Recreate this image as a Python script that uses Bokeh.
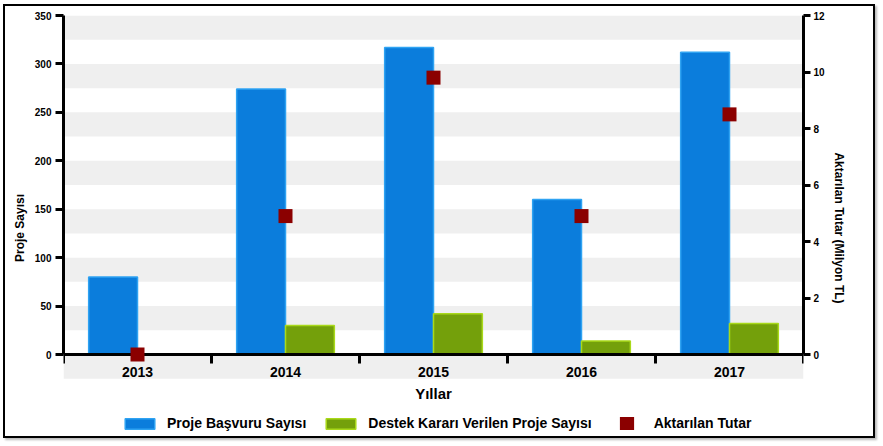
import numpy as np
from bokeh.plotting import figure
from bokeh.models import (Range1d, LinearAxis, FixedTicker, Legend, LegendItem,
                          ColumnDataSource, Grid)
from bokeh.embed import file_html
from bokeh.resources import INLINE

# ---- data ----
years = ["2013", "2014", "2015", "2016", "2017"]
basvuru = [80, 274, 317, 160, 312]          # Proje Başvuru Sayısı
destek = [0, 30, 42, 14, 32]                # Destek Kararı Verilen Proje Sayısı
tutar = [0.0, 4.9, 9.8, 4.9, 8.5]           # Aktarılan Tutar (Milyon TL)
left_ticks = [0, 50, 100, 150, 200, 250, 300, 350]
right_ticks = [0, 2, 4, 6, 8, 10, 12]
band_ticks = list(range(-25, 351, 25))

FONT = "Liberation Sans"
BAR_W = 0.33

# layout: the frame runs to the canvas bottom so the legend can sit inside it
W, H = 872, 434
TOP, LEFT, RIGHT = 9, 58, 74
AXIS_PX = 339                       # pixel height of 0..350
Y_MAX, Y2_MAX = 350, 12
frame_px = H - TOP
Y_MIN = Y_MAX - frame_px * Y_MAX / AXIS_PX
Y2_MIN = Y_MIN * Y2_MAX / Y_MAX

n = len(years)
centers = np.arange(n) + 0.5
src = ColumnDataSource(dict(
    xb=centers - BAR_W / 2, xg=centers + BAR_W / 2, xc=centers,
    basvuru=basvuru, destek=destek, tutar=tutar))

p = figure(width=W, height=H, x_range=Range1d(0, n), y_range=Range1d(Y_MIN, Y_MAX),
           output_backend="svg", toolbar_location=None,
           min_border_left=LEFT, min_border_right=RIGHT, min_border_top=TOP,
           min_border_bottom=0, x_axis_type=None, y_axis_type=None)
p.outline_line_color = None
p.background_fill_color = "white"
p.border_fill_color = "white"
p.styles = {"border": "2px solid black", "margin-left": "3px", "margin-top": "4px",
            "box-shadow": "2px 2px 2px #bbbbbb"}

p.extra_y_ranges = {"tutar": Range1d(Y2_MIN, Y2_MAX)}


def style_axis(ax, size="10px"):
    ax.axis_line_width = 3
    ax.axis_line_color = "black"
    ax.major_tick_line_width = 3
    ax.major_tick_line_color = "black"
    ax.major_tick_in = 0
    ax.major_tick_out = 8
    ax.minor_tick_line_color = None
    ax.major_label_text_font = FONT
    ax.major_label_text_font_style = "bold"
    ax.major_label_text_font_size = size
    ax.major_label_text_color = "black"
    ax.axis_label_text_font = FONT
    ax.axis_label_text_font_style = "bold"
    ax.axis_label_text_color = "black"


yl = LinearAxis(ticker=FixedTicker(ticks=left_ticks), axis_label="Proje Sayısı",
                bounds=(0, Y_MAX))
style_axis(yl)
yl.major_label_standoff = 4
yl.axis_label_text_font_size = "12px"
yl.axis_label_standoff = 5
p.add_layout(yl, "left")

yr = LinearAxis(y_range_name="tutar", ticker=FixedTicker(ticks=right_ticks),
                axis_label="Aktarılan Tutar (Milyon TL)", bounds=(0, Y2_MAX))
style_axis(yr)
yr.major_tick_out = 7
yr.major_label_standoff = 3
yr.axis_label_text_font_size = "12px"
yr.axis_label_standoff = 4
p.add_layout(yr, "right")

xa = LinearAxis(ticker=FixedTicker(ticks=list(centers), minor_ticks=list(range(n + 1))),
                axis_label="Yıllar", fixed_location=0)
style_axis(xa, "14px")
xa.major_tick_line_color = None
xa.major_tick_out = 0
xa.minor_tick_line_color = "black"
xa.minor_tick_line_width = 3
xa.minor_tick_in = 0
xa.minor_tick_out = 9
xa.major_label_standoff = 3
xa.major_label_overrides = {float(c): y for c, y in zip(centers, years)}
xa.axis_label_text_font_size = "15px"
xa.axis_label_standoff = 5
p.add_layout(xa, "below")

# alternating grey bands from 0 to 350
g = Grid(dimension=1, ticker=FixedTicker(ticks=band_ticks))
g.grid_line_color = None
g.band_fill_color = "#efefef"
g.band_fill_alpha = 1.0
p.add_layout(g)

r_blue = p.vbar(x="xb", top="basvuru", width=BAR_W, source=src,
                fill_color="#0b7ddc", line_color="#2fa3f2", line_width=1.5)
r_green = p.vbar(x="xg", top="destek", width=BAR_W, source=src,
                 fill_color="#74a00b", line_color="#a9d91a", line_width=1.5)
r_red = p.scatter(x="xc", y="tutar", source=src, y_range_name="tutar",
                  marker="square", size=5, line_width=9, line_join="miter",
                  fill_color="#8B0000", line_color="#8B0000")
r_red.level = "overlay"

legend = Legend(items=[LegendItem(label="Proje Başvuru Sayısı", renderers=[r_blue]),
                       LegendItem(label="Destek Kararı Verilen Proje Sayısı", renderers=[r_green]),
                       LegendItem(label="Aktarılan Tutar", renderers=[r_red])],
                orientation="horizontal", location=(58, 9),
                glyph_width=37, glyph_height=13, label_height=13,
                label_standoff=9, spacing=16, padding=0, margin=0,
                border_line_color=None, background_fill_alpha=0,
                label_text_font=FONT, label_text_font_size="14px",
                label_text_font_style="bold", label_text_color="black")
p.add_layout(legend)

open("out.html", "w").write(file_html(p, INLINE))
